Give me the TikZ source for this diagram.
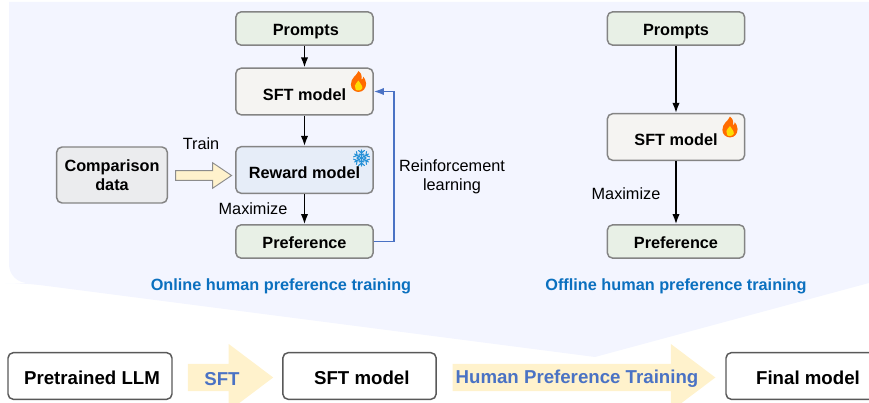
\documentclass[tikz,border=0pt]{standalone}
\usepackage{fontspec}
\setmainfont{Liberation Sans}
\usetikzlibrary{arrows.meta,shapes.arrows}
\newcommand{\bodyfont}{\fontsize{12.2}{14.2}\selectfont}
\newcommand{\stagefont}{\fontsize{14}{16}\selectfont}
\definecolor{panelblue}{HTML}{F3F5FF}
\definecolor{boxgreen}{HTML}{E8F0E6}
\definecolor{boxwarm}{HTML}{F5F4F2}
\definecolor{boxblue}{HTML}{E6EDF8}
\definecolor{boxgrey}{HTML}{EBECEE}
\definecolor{linegrey}{HTML}{848484}
\definecolor{softyellow}{HTML}{FFF2CC}
\definecolor{titleblue}{HTML}{0B70BF}
\definecolor{flowblue}{HTML}{4A72C4}
\tikzset{
  box/.style={draw=linegrey, line width=1.1pt, rounded corners=4pt, inner sep=0pt, align=center, font=\bodyfont\bfseries},
  greenbox/.style={box, fill=boxgreen, minimum width=103pt, minimum height=25pt, text height=10pt, text depth=0pt},
  modelbox/.style={box, fill=boxwarm, minimum width=103pt, minimum height=35pt, text height=13pt, text depth=0pt},
  stagebox/.style={box, draw=black!65, fill=white, minimum height=35pt, text height=13pt, text depth=0pt, font=\stagefont\bfseries},
  flow/.style={draw, line width=1.1pt, -{Latex[length=7.5pt,width=5.5pt]}},
  bigarrow/.style={single arrow, fill=softyellow, inner sep=0pt, minimum width=50pt, text height=20pt, text depth=0pt, single arrow head extend=15pt, single arrow tip angle=74},
  title/.style={inner sep=0pt, text=titleblue, font=\bodyfont\bfseries},
  textlabel/.style={inner sep=0pt, align=center, font=\bodyfont},
  arrowtext/.style={inner sep=0pt, text=flowblue, font=\stagefont\bfseries},
  pics/flame/.style={code={
    \fill[orange!85!red] (0,11) .. controls (-2,6) and (-8,4) .. (-8,-3) .. controls (-8,-8) and (-4,-11) .. (0,-11) .. controls (5,-11) and (8,-7) .. (8,-2) .. controls (8,1) and (6,4) .. (5,5) .. controls (5,3) and (4,2) .. (3,2) .. controls (4,5) and (3,9) .. (0,11) -- cycle;
    \fill[yellow!80!orange] (0,1) .. controls (-4,-3) and (-5,-6) .. (-3,-8.5) .. controls (-2,-10) and (3,-10) .. (4,-7) .. controls (4.5,-5) and (2,-2) .. (0,1) -- cycle;
  }},
  pics/flake/.style={code={
    \foreach \ang in {0,60,...,300} {
      \draw[rotate=\ang, cyan!70!blue!90, line width=0.8pt, line cap=round] (0,0) -- (0,8) (-3,7.5) -- (0,5) -- (3,7.5) (-2,4) -- (0,2.5) -- (2,4);
    }
  }}
}
\begin{document}
\begin{tikzpicture}[x=0.75pt, y=-0.75pt]
  \useasboundingbox (0,0) rectangle (869,403);
  %panel
  \fill[panelblue, rounded corners=14pt] (9,2) -- (9,283) -- (24,283) [sharp corners] -- (595,357) -- (869,283) -- (869,2) -- cycle;
  %left nodes
  \node[greenbox, text height=10.5pt] (prompts) at (304.5,28.5) {\hspace*{2pt}Prompts};
  \node[modelbox] (sft) at (304.5,91.5) {SFT model};
  \node[modelbox, fill=boxblue] (reward) at (304.5,170) {Reward model};
  \node[greenbox] (pref) at (304.5,241.5) {Preference};
  \node[box, fill=boxgrey, minimum width=83pt, minimum height=42pt] (data) at (112,175) {Comparison\\data};
  %right nodes
  \node[greenbox, text height=10.5pt] (prompts2) at (676,28.5) {Prompts};
  \node[modelbox] (sft2) at (676,137) {SFT model};
  \node[greenbox] (pref2) at (676,241.5) {Preference};
  %bottom nodes
  \node[stagebox, minimum width=123pt] (llm) at (90,376) {\hspace*{3pt}Pretrained LLM};
  \node[stagebox, minimum width=115pt] (sft3) at (359.5,376) {\hspace*{3.5pt}SFT model};
  \node[stagebox, minimum width=123pt] (final) at (808,376) {Final model};
  \node[bigarrow, minimum height=64pt] (arrowsft) at (221.5,377.5) {};
  \node[bigarrow, minimum height=197pt] (arrowhpt) at (575,377.5) {};
  %icons
  \pic[yscale=-1, scale=0.95] at (358.5,81.5) {flame};
  \pic[yscale=-1, scale=0.95] at (730,127) {flame};
  \pic at (361.5,158) {flake};
  %edges
  \path[flow] (prompts) -- (sft);
  \path[flow] (sft) -- (reward);
  \path[flow] (reward) -- (pref);
  \path[flow] (prompts2) -- (sft2);
  \path[flow] (sft2) -- (pref2);
  \path[flow, draw=flowblue] (pref.east) -- ++(20,0) |- (sft.east);
  \node[single arrow, draw=black!45, fill=softyellow, line width=0.7pt, minimum height=42pt, minimum width=19pt, text height=6.5pt, text depth=0pt, single arrow head extend=6pt, single arrow tip angle=68, inner sep=0pt] (arrowdata) at (200,175.5) {};
  %labels
  \node[textlabel] (train) at (201,144) {Train};
  \node[textlabel] (maxleft) at (253,208.5) {Maximize};
  \node[textlabel] (maxright) at (626,193.5) {Maximize};
  \node[textlabel] (rl) at (452,176.5) {Reinforcement\\learning};
  \node[title] (online) at (281,286) {Online human preference training};
  \node[title] (offline) at (676,286) {Offline human preference training};
  \node[arrowtext] (sftlabel) at (222,379) {SFT};
  \node[arrowtext] (hptlabel) at (577,379) {Human Preference Training};
\end{tikzpicture}
\end{document}
